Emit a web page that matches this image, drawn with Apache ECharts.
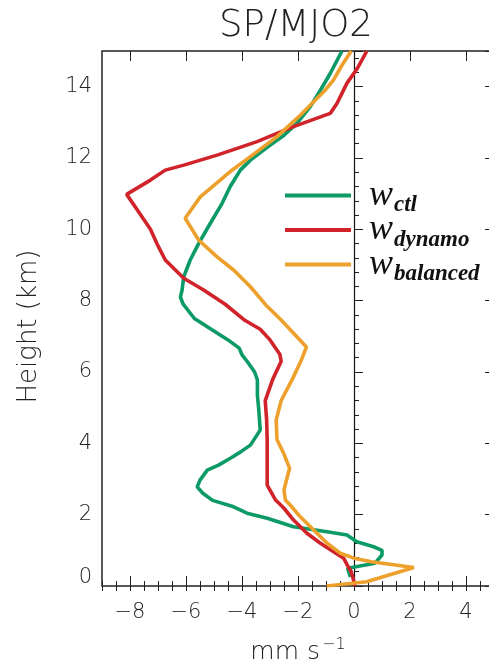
<!DOCTYPE html>
<html>
<head>
<meta charset="utf-8">
<script src="https://cdn.jsdelivr.net/npm/echarts@6/dist/echarts.min.js"></script>
<style>html,body{margin:0;padding:0;background:#fff}#c{width:489px;height:662px}</style>
</head>
<body>
<div id="c"></div>
<script>
// ---- data (height km, w mm/s) ----
var ctlHeight = [0.25,0.5,0.64,0.87,1.0,1.1,1.24,1.43,1.52,1.66,1.9,2.04,2.22,2.4,2.6,2.78,2.97,3.25,3.39,3.59,3.76,3.95,4.37,4.93,5.35,5.78,6.0,6.28,6.48,6.67,6.9,7.2,7.5,7.9,8.1,8.3,8.67,9.14,9.6,10.17,10.73,11.2,11.66,11.94,12.3,12.64,12.97,13.44,13.9,14.37,15.0];
var ctlW      = [-0.13,-0.23,0.75,1.0,1.0,0.7,0.1,-0.25,-0.96,-2.16,-3.1,-3.82,-4.3,-5.05,-5.4,-5.6,-5.5,-5.24,-4.84,-4.4,-4.05,-3.7,-3.35,-3.4,-3.45,-3.45,-3.55,-3.8,-4.0,-4.1,-4.5,-5.1,-5.7,-6.1,-6.2,-6.14,-6.08,-5.85,-5.55,-5.13,-4.71,-4.42,-4.06,-3.7,-3.1,-2.5,-2.04,-1.56,-1.2,-0.85,-0.43];

var dynHeight = [0.0,0.12,0.4,0.6,0.78,0.96,1.2,1.48,1.85,2.18,2.41,2.83,3.25,4.1,4.65,5.2,5.8,6.3,6.5,6.9,7.2,7.45,7.9,8.3,8.63,9.14,9.6,10.0,10.5,10.98,11.38,11.66,11.8,12.08,12.46,12.69,12.88,13.25,13.53,14.1,14.5,15.0];
var dynW      = [0.02,0.0,-0.1,-0.25,-0.37,-0.73,-1.2,-1.68,-2.16,-2.5,-2.8,-3.1,-3.1,-3.1,-3.12,-3.17,-2.9,-2.6,-2.65,-3.0,-3.35,-3.9,-4.6,-5.37,-6.08,-6.74,-7.04,-7.27,-7.7,-8.12,-7.27,-6.74,-6.08,-4.89,-3.46,-2.75,-2.16,-0.85,-0.61,-0.25,0.11,0.46];

var balHeight = [0.0,0.12,0.52,0.68,0.78,0.92,1.2,1.57,1.94,2.27,2.41,2.7,3.3,3.7,4.1,4.65,5.2,5.8,6.3,6.7,7.04,7.46,7.88,8.39,8.86,9.23,9.7,10.31,10.91,11.62,12.04,12.6,13.2,13.9,14.19,14.6,15.0];
var balW      = [-0.98,0.45,2.14,0.62,0.0,-0.49,-0.96,-1.44,-1.92,-2.28,-2.45,-2.5,-2.3,-2.5,-2.75,-2.78,-2.6,-2.2,-1.9,-1.7,-2.1,-2.6,-3.15,-3.7,-4.3,-4.89,-5.55,-6.03,-5.49,-4.42,-3.7,-2.75,-1.92,-1.03,-0.73,-0.43,-0.1];

var seriesNames = ['ctl','dynamo','balanced'];
var xTickLabels = [-8,-6,-4,-2,0,2,4];
var yTickLabels = [0,2,4,6,8,10,12,14];

function pairs(h, w){ var out=[]; for(var i=0;i<h.length;i++){ out.push([w[i], h[i]]); } return out; }
function fmtNum(v){ return v<0 ? '\u2212' + Math.abs(v) : String(v); }

var FONT = "'DejaVu Sans Light','DejaVu Sans'";
var colors = ['#0c9a66','#d0232a','#eea02d'];

var chart = echarts.init(document.getElementById('c'), null, {renderer:'canvas'});

var plotLeft = 102, plotTop = 51, plotW = 392, plotH = 535;
var unitX = plotW / 14; // -9..5

function tickAxis(opts){
  return Object.assign({
    type:'value', axisLine:{show:false}, splitLine:{show:false},
    axisTick:{show:true, inside:true, length:5, lineStyle:{color:'#222', width:1}},
    axisLabel:{show:false}
  }, opts);
}

var option = {
  animation:false,
  backgroundColor:'#fff',
  title:{
    text:'SP/MJO2', left: 291, top: 3, textAlign:'center',
    textStyle:{fontFamily:FONT, fontSize:37, fontWeight:'normal', color:'#222'}
  },
  legend:{
    orient:'vertical', left:280, top:169, itemWidth:66, itemHeight:4, itemGap:-8.5,
    icon:'rect',
    data: seriesNames,
    formatter:function(n){ return '{w|w}{s|' + n + '}'; },
    textStyle:{
      padding:[0,0,0,13],
      rich:{
        w:{fontFamily:'Liberation Serif', fontStyle:'italic', fontSize:36, color:'#111', lineHeight:26},
        s:{fontFamily:'Liberation Serif', fontStyle:'italic', fontWeight:'bold', fontSize:23, color:'#111', padding:[20,0,0,1], lineHeight:20}
      }
    }
  },
  grid:[
    {left:plotLeft, top:plotTop, width:plotW, height:plotH, show:true, borderColor:'#222', borderWidth:1.5, backgroundColor:'transparent', containLabel:false, outerBoundsMode:'none'},
    {left:plotLeft + unitX, top:plotTop, width:unitX*12, height:plotH, show:false, containLabel:false, outerBoundsMode:'none'}
  ],
  xAxis:[
    tickAxis({gridIndex:0, position:'bottom', min:-9, max:5, interval:0.5}),
    tickAxis({gridIndex:0, position:'top', min:-9, max:5, interval:0.5}),
    tickAxis({gridIndex:1, position:'bottom', min:xTickLabels[0], max:xTickLabels[xTickLabels.length-1], interval:2,
      axisTick:{show:true, inside:true, length:10, lineStyle:{color:'#222', width:1}},
      axisLabel:{show:true, margin:16, fontFamily:FONT, fontSize:21, color:'#222', formatter:function(v){ return fmtNum(v); }},
      name:'{a|mm s}{b|\u22121}', nameLocation:'middle', nameGap:51,
      nameTextStyle:{rich:{
        a:{fontFamily:FONT, fontSize:25, color:'#222'},
        b:{fontFamily:FONT, fontSize:16, color:'#222', padding:[0,0,14,2]}
      }}
    }),
    tickAxis({gridIndex:1, position:'top', min:xTickLabels[0], max:xTickLabels[xTickLabels.length-1], interval:2,
      axisTick:{show:true, inside:true, length:10, lineStyle:{color:'#222', width:1}}})
  ],
  yAxis:[
    tickAxis({gridIndex:0, position:'left', min:0, max:15, interval:2,
      axisTick:{show:true, inside:true, length:9, lineStyle:{color:'#222', width:1}},
      axisLabel:{show:true, margin:10, fontFamily:FONT, fontSize:21, color:'#222',
        formatter:function(v){
          if (yTickLabels.indexOf(v) < 0) return '';
          return v === 0 ? '{z|0}' : fmtNum(v);
        },
        rich:{z:{fontFamily:FONT, fontSize:21, color:'#222', padding:[0,0,16,0]}}
      },
      name:'Height (km)', nameLocation:'middle', nameGap:60, nameRotate:90,
      nameTextStyle:{fontFamily:FONT, fontSize:26, color:'#222', padding:[0,16,0,0]}
    }),
    tickAxis({gridIndex:0, position:'left', min:0, max:15, interval:0.4}),
    tickAxis({gridIndex:0, position:'right', min:0, max:15, interval:2,
      axisTick:{show:true, inside:true, length:9, lineStyle:{color:'#222', width:1}}}),
    tickAxis({gridIndex:0, position:'right', min:0, max:15, interval:0.4}),
    {type:'value', gridIndex:1, min:0, max:15, show:false}
  ],
  series:[
    {name:seriesNames[0], type:'line', data:pairs(ctlHeight, ctlW), showSymbol:false, symbol:'none',
     lineStyle:{color:colors[0], width:3.6}, itemStyle:{color:colors[0]}, z:3,
     markLine:{silent:true, symbol:'none', label:{show:false}, data:[{xAxis:0}], lineStyle:{color:'#111', width:1.2, type:'solid'}, z:1}},
    {name:seriesNames[1], type:'line', data:pairs(dynHeight, dynW), showSymbol:false, symbol:'none',
     lineStyle:{color:colors[1], width:3.6}, itemStyle:{color:colors[1]}, z:4},
    {name:seriesNames[2], type:'line', data:pairs(balHeight, balW), showSymbol:false, symbol:'none',
     lineStyle:{color:colors[2], width:3.6}, itemStyle:{color:colors[2]}, z:5}
  ]
};
chart.setOption(option);
</script>
</body>
</html>
